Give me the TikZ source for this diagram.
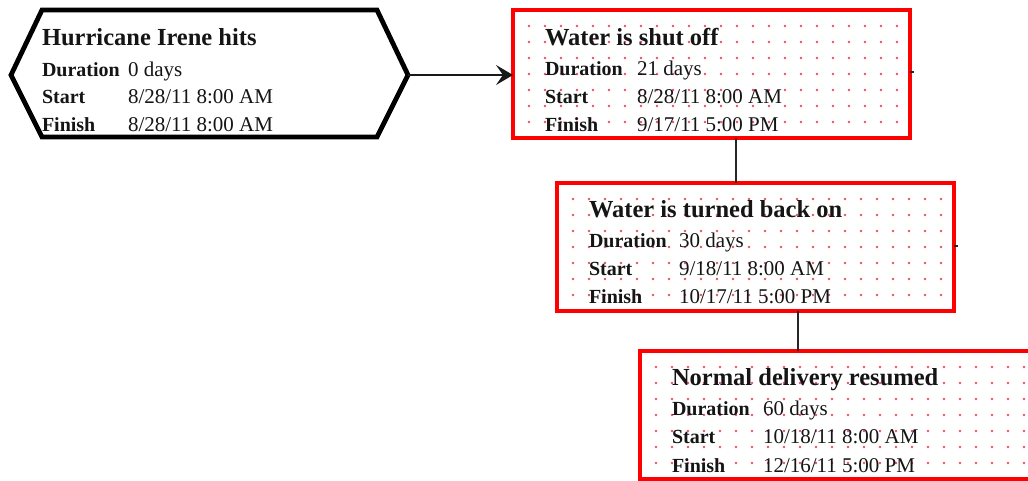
\documentclass[tikz,border=0pt]{standalone}
\usepackage{fontspec}
\setmainfont{Liberation Serif}
\usetikzlibrary{arrows.meta}
\definecolor{boxred}{HTML}{FF0000}
\definecolor{dotred}{HTML}{E8505E}
\definecolor{ink}{HTML}{151515}
\newcommand{\tasktitle}[1]{{\fontsize{24.5}{28}\selectfont\bfseries #1}}
\newcommand{\tasklabel}[1]{{\fontsize{20}{24}\selectfont\bfseries #1}}
\newcommand{\taskvalue}[1]{{\fontsize{21}{24}\selectfont #1}}
\begin{document}
\begin{tikzpicture}[x=1pt,y=-1pt,
  taskbox/.style={draw=boxred, line width=4pt, rectangle, inner sep=0pt, outer sep=0pt,
    minimum width=397pt, minimum height=128pt, anchor=north west},
  txt/.style={anchor=base west, inner sep=0pt, outer sep=0pt, text=ink},
  link/.style={draw=black!85, line width=1.5pt},
  arr/.style={draw=black!90, line width=1.8pt, -{Stealth[length=17pt,width=20pt,inset=7pt]}},
  dot/.style={fill=dotred}
]
\clip (0,0) rectangle (1028,480);
\fill[white] (0,0) rectangle (1028,480);

% ---------- hexagon (milestone) ----------
\draw[line width=4.8pt, line join=miter, black] (42,10) -- (377,10) -- (408,75) -- (377,137) -- (42,137) -- (11,75) -- cycle;
\coordinate (hexR) at (408,75);
\coordinate (hexTL) at (42,10);
\node[txt] (h0) at ([shift={(0,35)}]hexTL) {\tasktitle{Hurricane Irene hits}};
\node[txt] (h1) at ([shift={(0,66)}]hexTL) {\tasklabel{Duration}};
\node[txt] (h2) at ([shift={(0,93)}]hexTL) {\tasklabel{Start}};
\node[txt] (h3) at ([shift={(0,121)}]hexTL) {\tasklabel{Finish}};
\node[txt] (h1v) at ([shift={(86,66)}]hexTL) {\taskvalue{0 days}};
\node[txt] (h2v) at ([shift={(86,93)}]hexTL) {\taskvalue{8/28/11 8:00 AM}};
\node[txt] (h3v) at ([shift={(86,121)}]hexTL) {\taskvalue{8/28/11 8:00 AM}};

% ---------- task boxes ----------
\node[taskbox] (b1) at (513,10) {};
\node[taskbox] (b2) at (557,183) {};
\node[taskbox] (b3) at (640,351) {};

% dot grids
\foreach \x in {529,545,...,900} \foreach \y in {26,42,...,125} \fill[dot] (\x,\y) circle (1.3);
\foreach \x in {573,589,...,944} \foreach \y in {199,215,...,298} \fill[dot] (\x,\y) circle (1.3);
\foreach \x in {656,672,...,1027} \foreach \y in {367,383,...,466} \fill[dot] (\x,\y) circle (1.3);

% texts box 1
\node[txt] (t1) at ([shift={(32,35)}]b1.north west) {\tasktitle{Water is shut off}};
\node[txt] (t1a) at ([shift={(32,65)}]b1.north west) {\tasklabel{Duration}};
\node[txt] (t1b) at ([shift={(32,93)}]b1.north west) {\tasklabel{Start}};
\node[txt] (t1c) at ([shift={(32,121)}]b1.north west) {\tasklabel{Finish}};
\node[txt] (t1av) at ([shift={(124,65)}]b1.north west) {\taskvalue{21 days}};
\node[txt] (t1bv) at ([shift={(124,93)}]b1.north west) {\taskvalue{8/28/11 8:00 AM}};
\node[txt] (t1cv) at ([shift={(124,121)}]b1.north west) {\taskvalue{9/17/11 5:00 PM}};

% texts box 2
\node[txt] (t2) at ([shift={(32,34)}]b2.north west) {\tasktitle{Water is turned back on}};
\node[txt] (t2a) at ([shift={(32,64)}]b2.north west) {\tasklabel{Duration}};
\node[txt] (t2b) at ([shift={(32,92)}]b2.north west) {\tasklabel{Start}};
\node[txt] (t2c) at ([shift={(32,120)}]b2.north west) {\tasklabel{Finish}};
\node[txt] (t2av) at ([shift={(122,64)}]b2.north west) {\taskvalue{30 days}};
\node[txt] (t2bv) at ([shift={(122,92)}]b2.north west) {\taskvalue{9/18/11 8:00 AM}};
\node[txt] (t2cv) at ([shift={(122,120)}]b2.north west) {\taskvalue{10/17/11 5:00 PM}};

% texts box 3
\node[txt] (t3) at ([shift={(32,34)}]b3.north west) {\tasktitle{Normal delivery resumed}};
\node[txt] (t3a) at ([shift={(32,64)}]b3.north west) {\tasklabel{Duration}};
\node[txt] (t3b) at ([shift={(32,92)}]b3.north west) {\tasklabel{Start}};
\node[txt] (t3c) at ([shift={(32,121)}]b3.north west) {\tasklabel{Finish}};
\node[txt] (t3av) at ([shift={(123,64)}]b3.north west) {\taskvalue{60 days}};
\node[txt] (t3bv) at ([shift={(123,92)}]b3.north west) {\taskvalue{10/18/11 8:00 AM}};
\node[txt] (t3cv) at ([shift={(123,121)}]b3.north west) {\taskvalue{12/16/11 5:00 PM}};

% ---------- connectors ----------
\draw[arr] (hexR) -- (b1.west |- hexR);
\draw[link] ([xshift=223pt]b1.south west) -- ([xshift=179pt]b2.north west);
\draw[link] ([xshift=241pt]b2.south west) -- ([xshift=158pt]b3.north west);
\draw[link] ([yshift=2pt]b1.east) -- ++(4,0);
\draw[link] ([yshift=1pt]b2.east) -- ++(4,0);
\end{tikzpicture}
\end{document}
